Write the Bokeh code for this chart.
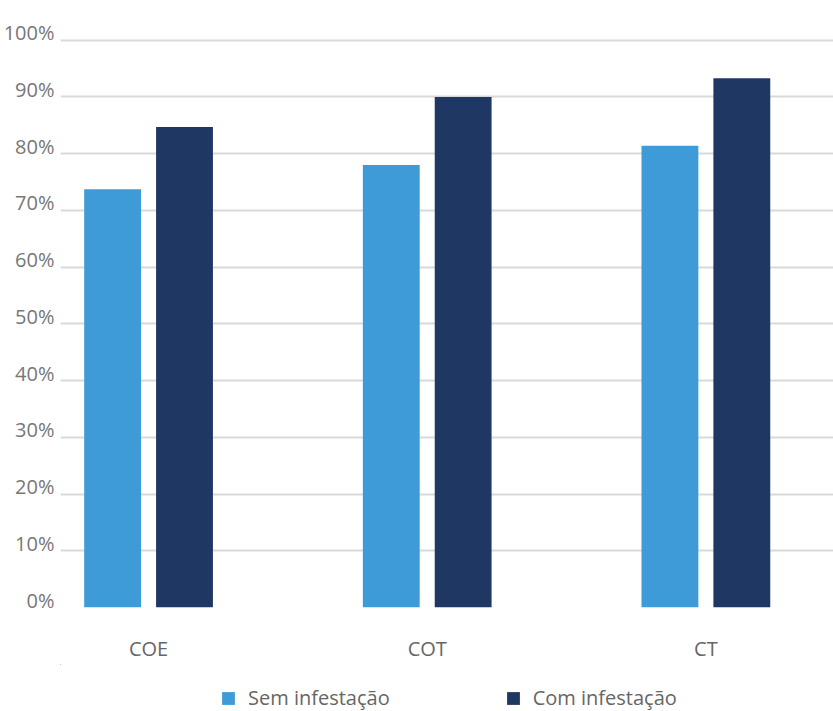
from bokeh.plotting import figure
from bokeh.layouts import column
from bokeh.models import Range1d, FixedTicker, PrintfTickFormatter, Legend, LegendItem, LinearAxis
from bokeh.embed import file_html
from bokeh.resources import INLINE
import numpy as np

categories = ["COE", "COT", "CT"]
sem_infestacao = [73.7, 78.0, 81.4]
com_infestacao = [84.7, 90.0, 93.3]
series_names = ["Sem infestação", "Com infestação"]
y_ticks = list(range(0, 101, 10))

LIGHT = "#3E9BD8"
DARK = "#1F3763"
FONT = "Open Sans"

x = np.arange(len(categories))

LIFT = 1.3  # y-units the tick labels sit above their gridlines

p = figure(width=833, height=664, output_backend="svg", toolbar_location=None,
           x_range=Range1d(-0.316, 2.458), y_range=Range1d(0, 100 + LIFT + 0.05),
           min_border_left=59, min_border_right=0, min_border_top=32, min_border_bottom=57)
p.extra_y_ranges = {"lab": Range1d(-LIFT, 100.05)}
p.outline_line_color = None
p.background_fill_color = "white"
p.border_fill_color = "white"

r1 = p.vbar(x=x - 0.129, top=sem_infestacao, width=0.204, fill_color=LIGHT, line_color=None)
r2 = p.vbar(x=x + 0.129, top=com_infestacao, width=0.204, fill_color=DARK, line_color=None)

p.xgrid.visible = False
p.ygrid.ticker = FixedTicker(ticks=y_ticks)
p.ygrid.grid_line_color = "#d9d9d9"
p.ygrid.grid_line_width = 2
p.ygrid.level = "underlay"

p.yaxis[0].visible = False

ya = LinearAxis(y_range_name="lab")
ya.ticker = FixedTicker(ticks=y_ticks)
ya.formatter = PrintfTickFormatter(format="%d%%")
ya.axis_line_color = None
ya.major_tick_line_color = None
ya.minor_tick_line_color = None
ya.major_tick_out = 0
ya.major_tick_in = 0
ya.major_label_standoff = 6
ya.major_label_text_font = FONT
ya.major_label_text_font_size = "20px"
ya.major_label_text_color = "#777777"
p.add_layout(ya, "left")

xa = p.xaxis[0]
xa.ticker = FixedTicker(ticks=list(x))
xa.major_label_overrides = {int(i): c for i, c in zip(x, categories)}
xa.axis_line_color = None
xa.major_tick_line_color = None
xa.minor_tick_line_color = None
xa.major_tick_out = 0
xa.major_tick_in = 0
xa.major_label_standoff = 27
xa.major_label_text_font = FONT
xa.major_label_text_font_size = "20px"
xa.major_label_text_color = "#666666"

# legend strip below the chart (its bars lie outside its view; only the legend shows)
q = figure(width=833, height=47, output_backend="svg", toolbar_location=None,
           x_range=Range1d(50, 51), y_range=Range1d(-200, -100),
           min_border=0, x_axis_location=None, y_axis_location=None)
q.outline_line_color = None
q.xgrid.visible = False
q.ygrid.visible = False
k1 = q.vbar(x=x - 0.129, top=sem_infestacao, width=0.204, fill_color=LIGHT, line_color=None)
k2 = q.vbar(x=x + 0.129, top=com_infestacao, width=0.204, fill_color=DARK, line_color=None)

legend = Legend(items=[LegendItem(label=series_names[0], renderers=[k1]),
                       LegendItem(label=series_names[1], renderers=[k2])],
                orientation="horizontal", location=(160, 0),
                padding=0, margin=0, spacing=115,
                glyph_width=16, glyph_height=16, label_standoff=12,
                label_text_font=FONT, label_text_font_size="20px",
                label_text_color="#666666",
                border_line_color=None, background_fill_alpha=0)
q.add_layout(legend, "center")

open("out.html", "w").write(file_html(column(p, q, spacing=0), INLINE))
